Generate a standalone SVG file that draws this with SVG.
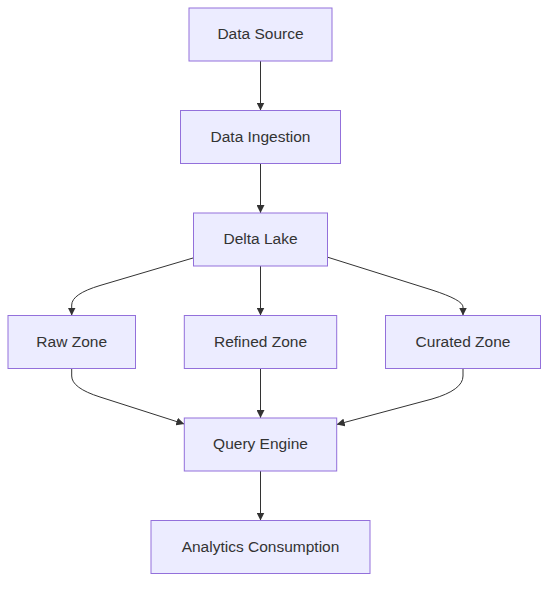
<svg xmlns="http://www.w3.org/2000/svg" width="556" height="590" viewBox="0 0 556 590">
<style>
.node rect{fill:#ECECFF;stroke:#9370DB;stroke-width:1px;}
.node text{font-family:"Liberation Sans",Arial,sans-serif;font-size:15.5px;fill:#333333;text-anchor:middle;dominant-baseline:central;}
.edges path{fill:none;stroke:#333333;stroke-width:1px;}
</style>
<defs>
<marker id="arrow" viewBox="0 0 10 10" refX="10" refY="5" markerUnits="userSpaceOnUse" markerWidth="8" markerHeight="8" orient="auto">
<path d="M0,0 L10,5 L0,10 z" fill="#333333"/>
</marker>
</defs>
<rect width="556" height="590" fill="#ffffff"/>
<g class="edges">
<path d="M260.5,61 L260.5,110.5" marker-end="url(#arrow)"/>
<path d="M260.5,163.5 L260.5,213" marker-end="url(#arrow)"/>
<path d="M193,258 L100,285.5 Q71.7,294 71.7,305 L71.7,315.5" marker-end="url(#arrow)"/>
<path d="M260.5,266 L260.5,315.5" marker-end="url(#arrow)"/>
<path d="M327,257 L432,290 Q463,300 463,307 L463,315.5" marker-end="url(#arrow)"/>
<path d="M71.7,368.5 L71.7,376 Q71.7,388 100,397 L184.3,424" marker-end="url(#arrow)"/>
<path d="M260.5,368.5 L260.5,418" marker-end="url(#arrow)"/>
<path d="M463,368.5 L463,376 Q463,390 432,399 L336.7,424.5" marker-end="url(#arrow)"/>
<path d="M260.5,471 L260.5,520.5" marker-end="url(#arrow)"/>
</g>
<g id="dataSource" class="node"><rect x="189" y="8" width="143" height="53"/><text x="260.5" y="33.5">Data Source</text></g>
<g id="dataIngestion" class="node"><rect x="180.5" y="110.5" width="160" height="53"/><text x="260.5" y="136">Data Ingestion</text></g>
<g id="deltaLake" class="node"><rect x="193.5" y="213" width="134" height="53"/><text x="260.5" y="238.5">Delta Lake</text></g>
<g id="rawZone" class="node"><rect x="8" y="315.5" width="127.5" height="53"/><text x="71.7" y="341">Raw Zone</text></g>
<g id="refinedZone" class="node"><rect x="184.3" y="315.5" width="152.4" height="53"/><text x="260.5" y="341">Refined Zone</text></g>
<g id="curatedZone" class="node"><rect x="385.5" y="315.5" width="155" height="53"/><text x="463" y="341">Curated Zone</text></g>
<g id="queryEngine" class="node"><rect x="184.3" y="418" width="152.4" height="53"/><text x="260.5" y="443.5">Query Engine</text></g>
<g id="analytics" class="node"><rect x="151" y="520.5" width="219" height="53"/><text x="260.5" y="546">Analytics Consumption</text></g>
</svg>
